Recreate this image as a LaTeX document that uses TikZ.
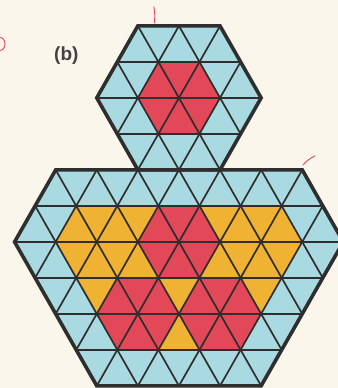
\documentclass[tikz,border=0pt]{standalone}
\usepackage{fontspec}
\setsansfont{Liberation Sans}
\usepackage{tikz}
\usetikzlibrary{calc,positioning}
\definecolor{tileblue}{HTML}{AADAE1}
\definecolor{tilered}{HTML}{E24858}
\definecolor{tileyellow}{HTML}{EFB232}
\definecolor{paper}{HTML}{FAF6EC}
\definecolor{gridink}{HTML}{2E2E2E}
\definecolor{penred}{HTML}{E8485A}
\tikzset{
 tile blue/.style={fill=tileblue},
 tile red/.style={fill=tilered},
 tile yellow/.style={fill=tileyellow},
 tile grid/.style={draw=gridink,line width=1.7pt},
 tile rim/.style={draw=gridink,line width=3.6pt,line join=miter},
 pen mark/.style={draw=penred,line width=0.9pt,line cap=round},
 part label/.style={font=\sffamily\bfseries\fontsize{19}{19}\selectfont,
                    text=gridink!90,inner sep=0pt}
}

\begin{document}
\begin{tikzpicture}[x=41.1pt,y=36pt]
 \fill[paper] (-4.355,-8.06) rectangle (3.869,2.72);
 \useasboundingbox (-4.355,-8.06) rectangle (3.869,2.72);

 % small hexagon
 \coordinate (s1) at (-1,2);
 \coordinate (s2) at (1,2);
 \coordinate (s3) at (2,0);
 \coordinate (s4) at (1,-2);
 \coordinate (s5) at (-1,-2);
 \coordinate (s6) at (-2,0);
 % big hexagon
 \coordinate (b1) at (-3,-2);
 \coordinate (b2) at (3,-2);
 \coordinate (b3) at (4,-4);
 \coordinate (b4) at (2,-8);
 \coordinate (b5) at (-2,-8);
 \coordinate (b6) at (-4,-4);

 \fill[tile blue] (s1)--(s2)--(s3)--(s4)--(s5)--(s6)--cycle;
 \fill[tile blue] (b1)--(b2)--(b3)--(b4)--(b5)--(b6)--cycle;

 % up triangles: apex at (\c,\y)
 \foreach \c/\y in {-0.5/1,0.5/1,0/0,-0.5/-3,0.5/-3,0/-4,
                    -1.5/-5,-0.5/-5,0.5/-5,1.5/-5,-1/-6,1/-6}
  \fill[tile red] (\c-0.5,\y-1)--(\c,\y)--(\c+0.5,\y-1)--cycle;
 \foreach \c/\y in {-2.5/-3,-1.5/-3,1.5/-3,2.5/-3,
                    -2/-4,-1/-4,1/-4,2/-4,0/-6}
  \fill[tile yellow] (\c-0.5,\y-1)--(\c,\y)--(\c+0.5,\y-1)--cycle;
 % down triangles: top edge at level \y
 \foreach \c/\y in {0/1,-0.5/0,0.5/0,0/-3,-0.5/-4,0.5/-4,
                    -1/-5,1/-5,-1.5/-6,-0.5/-6,0.5/-6,1.5/-6}
  \fill[tile red] (\c-0.5,\y)--(\c+0.5,\y)--(\c,\y-1)--cycle;
 \foreach \c/\y in {-2/-3,-1/-3,1/-3,2/-3,-2.5/-4,-1.5/-4,1.5/-4,2.5/-4,
                    -2/-5,0/-5,2/-5}
  \fill[tile yellow] (\c-0.5,\y)--(\c+0.5,\y)--(\c,\y-1)--cycle;

 % lattice
 \begin{scope}
  \clip (s1)--(s2)--(s3)--(s4)--(s5)--(s6)--cycle
        (b1)--(b2)--(b3)--(b4)--(b5)--(b6)--cycle;
  \foreach \y in {-8,...,2} \draw[tile grid] (-5,\y)--(5,\y);
  \foreach \c in {-8,...,8} {
   \draw[tile grid] (\c-4,-8)--(\c+1,2);
   \draw[tile grid] (\c+4,-8)--(\c-1,2);
  }
 \end{scope}

 \draw[tile rim] (s1)--(s2)--(s3)--(s4)--(s5)--(s6)--cycle;
 \draw[tile rim] (b1)--(b2)--(b3)--(b4)--(b5)--(b6)--cycle;

 \node[part label] (lbl) at (-2.74,1.17) {(b)};

 % pen marks
 \draw[pen mark] (-0.61,2.53) to[bend left=8] (-0.60,2.08);
 \draw[pen mark] (-4.355,1.68) arc[start angle=90,end angle=-90,
                  x radius=5pt,y radius=6.5pt];
 \draw[pen mark] (3.02,-1.86) to[bend left=10] (3.31,-1.61);
\end{tikzpicture}
\end{document}
